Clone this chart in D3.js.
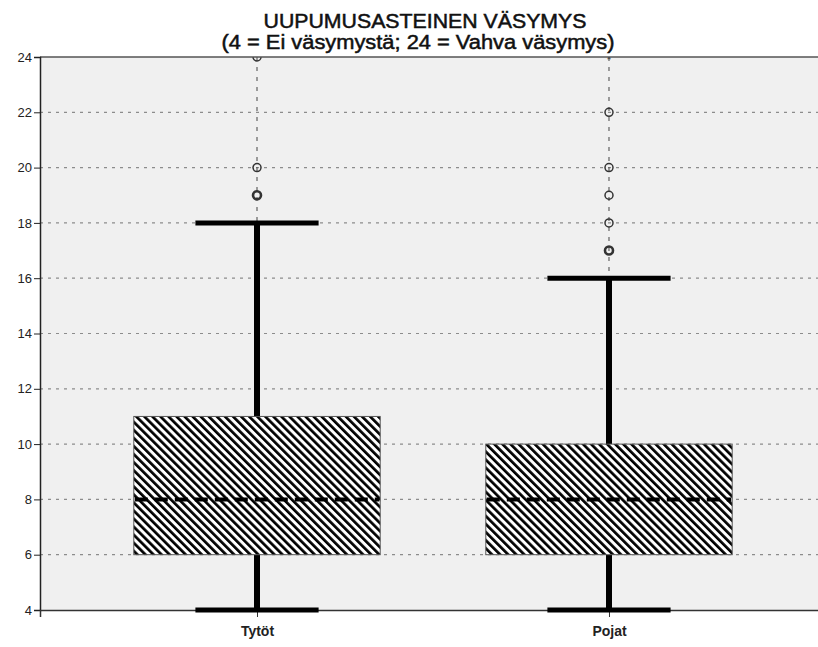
<!DOCTYPE html>
<html>
<head>
<meta charset="utf-8">
<script src="https://cdn.jsdelivr.net/npm/d3@7"></script>
<style>
  body { margin: 0; background: #fff; }
  svg { display: block; font-family: "Liberation Sans", Arial, sans-serif; }
</style>
</head>
<body>
<div id="chart"></div>
<script>
const categories = ["Tytöt", "Pojat"];
const whiskerLow = [4, 4];
const q1 = [6, 6];
const median = [8, 8];
const q3 = [11, 10];
const whiskerHigh = [18, 16];
// outliers: value, bold = several cases on the same value
const outliersTytot = [{ v: 19, bold: true }, { v: 20, bold: false }, { v: 24, bold: false }];
const outliersPojat = [{ v: 17, bold: true }, { v: 18, bold: false }, { v: 19, bold: false }, { v: 20, bold: false }, { v: 22, bold: false }];
const extremesTytot = [];
const extremesPojat = [24];
const yTicks = [4, 6, 8, 10, 12, 14, 16, 18, 20, 22, 24];
const titleLines = ["UUPUMUSASTEINEN VÄSYMYS", "(4 = Ei väsymystä; 24 = Vahva väsymys)"];

const width = 818, height = 647;
const margin = { top: 57, right: -8, bottom: 37, left: 40 };

const boxes = categories.map((c, i) => ({
    cat: c, lo: whiskerLow[i], q1: q1[i], med: median[i], q3: q3[i], hi: whiskerHigh[i],
    outliers: i === 0 ? outliersTytot : outliersPojat,
    extremes: i === 0 ? extremesTytot : extremesPojat
}));

const svg = d3.select("#chart")
    .append("svg")
    .attr("width", width)
    .attr("height", height);

const x = d3.scalePoint()
    .domain(categories)
    .range([margin.left, width - margin.right])
    .padding(0.6165);

const step = x.step();
const boxW = step * 0.7;
const capW = step * 0.35;

const y = d3.scaleLinear()
    .domain([4, 24])
    .range([height - margin.bottom, margin.top]);

const defs = svg.append("defs");
const pat = defs.append("pattern")
    .attr("id", "hatch")
    .attr("patternUnits", "userSpaceOnUse")
    .attr("width", 5.7)
    .attr("height", 5.7)
    .attr("patternTransform", "rotate(-45)");
pat.append("rect").attr("width", 5.7).attr("height", 5.7).attr("fill", "#fff");
pat.append("rect").attr("width", 2.7).attr("height", 5.7).attr("fill", "#000");

defs.append("clipPath").attr("id", "plotclip")
    .append("rect")
    .attr("x", margin.left)
    .attr("y", margin.top)
    .attr("width", width - margin.left - margin.right)
    .attr("height", height - margin.top - margin.bottom);

// background
svg.append("rect")
    .attr("x", margin.left)
    .attr("y", margin.top)
    .attr("width", width - margin.left - margin.right)
    .attr("height", height - margin.top - margin.bottom)
    .attr("fill", "#f0f0f0");

const plot = svg.append("g").attr("clip-path", "url(#plotclip)");

// horizontal grid
plot.selectAll("line.grid")
    .data(yTicks.filter(d => d > 4 && d < 24))
    .enter()
    .append("line")
    .attr("class", "grid")
    .attr("x1", margin.left)
    .attr("x2", width)
    .attr("y1", d => y(d))
    .attr("y2", d => y(d))
    .attr("stroke", "#8c8c8c")
    .attr("stroke-width", 1.2)
    .attr("stroke-dasharray", "3,5");

// vertical category lines
plot.selectAll("line.vgrid")
    .data(categories)
    .enter()
    .append("line")
    .attr("class", "vgrid")
    .attr("x1", d => x(d))
    .attr("x2", d => x(d))
    .attr("y1", margin.top)
    .attr("y2", height - margin.bottom)
    .attr("stroke", "#444")
    .attr("stroke-width", 1)
    .attr("stroke-dasharray", "4,6");

// outliers (clipped at the plot edge)
const og = plot.selectAll("g.out")
    .data(boxes)
    .enter()
    .append("g")
    .attr("class", "out");

og.selectAll("circle")
    .data(d => d.outliers.map(o => ({ cat: d.cat, v: o.v, bold: o.bold })))
    .enter()
    .append("circle")
    .attr("cx", d => x(d.cat))
    .attr("cy", d => y(d.v))
    .attr("r", 4)
    .attr("fill", "none")
    .attr("stroke", "#333")
    .attr("stroke-width", d => d.bold ? 2.6 : 1.5);

og.selectAll("text.ext")
    .data(d => d.extremes.map(v => ({ cat: d.cat, v })))
    .enter()
    .append("text")
    .attr("class", "ext")
    .attr("x", d => x(d.cat))
    .attr("y", d => y(d.v) + 7)
    .attr("text-anchor", "middle")
    .attr("font-size", "13px")
    .attr("fill", "#333")
    .text("*");

// top border
svg.append("line")
    .attr("x1", margin.left).attr("x2", width)
    .attr("y1", margin.top).attr("y2", margin.top)
    .attr("stroke", "#555").attr("stroke-width", 1.5);

// axes
const yAxis = svg.append("g")
    .attr("transform", `translate(${margin.left},0)`)
    .call(d3.axisLeft(y).tickValues(yTicks).tickSize(6).tickPadding(2));
yAxis.select(".domain").attr("stroke", "#222").attr("stroke-width", 1.5);
yAxis.selectAll(".tick line").attr("stroke", "#222");
yAxis.selectAll("text").attr("font-size", "13px").attr("fill", "#222")
    .attr("font-family", "Liberation Sans, Arial, sans-serif");

const xAxis = svg.append("g")
    .attr("transform", `translate(0,${height - margin.bottom})`)
    .call(d3.axisBottom(x).tickSize(7).tickPadding(9));
xAxis.select(".domain").attr("stroke", "#333").attr("stroke-width", 1.5);
xAxis.selectAll(".tick line").attr("stroke", "#333");
xAxis.selectAll("text").attr("font-size", "14px").attr("font-weight", "bold").attr("fill", "#222")
    .attr("font-family", "Liberation Sans, Arial, sans-serif");

// boxes drawn over the axis line, like the reference
const g = svg.selectAll("g.box")
    .data(boxes)
    .enter()
    .append("g")
    .attr("class", "box");

g.append("line")
    .attr("x1", d => x(d.cat)).attr("x2", d => x(d.cat))
    .attr("y1", d => y(d.hi)).attr("y2", d => y(d.q3))
    .attr("stroke", "#000").attr("stroke-width", 6);
g.append("line")
    .attr("x1", d => x(d.cat)).attr("x2", d => x(d.cat))
    .attr("y1", d => y(d.q1)).attr("y2", d => y(d.lo))
    .attr("stroke", "#000").attr("stroke-width", 6);

[d => d.hi, d => d.lo].forEach(f => {
    g.append("line")
        .attr("x1", d => x(d.cat) - capW / 2)
        .attr("x2", d => x(d.cat) + capW / 2)
        .attr("y1", d => y(f(d)))
        .attr("y2", d => y(f(d)))
        .attr("stroke", "#000")
        .attr("stroke-width", 5);
});

g.append("rect")
    .attr("x", d => x(d.cat) - boxW / 2)
    .attr("y", d => y(d.q3))
    .attr("width", boxW)
    .attr("height", d => y(d.q1) - y(d.q3))
    .attr("fill", "url(#hatch)")
    .attr("stroke", "#555")
    .attr("stroke-width", 1);

g.append("line")
    .attr("x1", d => x(d.cat) - boxW / 2 + 1)
    .attr("x2", d => x(d.cat) + boxW / 2 - 1)
    .attr("y1", d => y(d.med))
    .attr("y2", d => y(d.med))
    .attr("stroke", "#000")
    .attr("stroke-width", 4)
    .attr("stroke-dasharray", "13,7");

// title
svg.append("text")
    .attr("x", 425)
    .attr("y", 28)
    .attr("text-anchor", "middle")
    .attr("font-size", "20px")
    .attr("fill", "#111")
    .attr("stroke", "#111")
    .attr("stroke-width", 0.5)
    .attr("textLength", 323)
    .attr("lengthAdjust", "spacingAndGlyphs")
    .text(titleLines[0]);
svg.append("text")
    .attr("x", 418)
    .attr("y", 49)
    .attr("text-anchor", "middle")
    .attr("font-size", "20px")
    .attr("fill", "#111")
    .attr("stroke", "#111")
    .attr("stroke-width", 0.5)
    .attr("textLength", 393)
    .attr("lengthAdjust", "spacingAndGlyphs")
    .text(titleLines[1]);
</script>
</body>
</html>
